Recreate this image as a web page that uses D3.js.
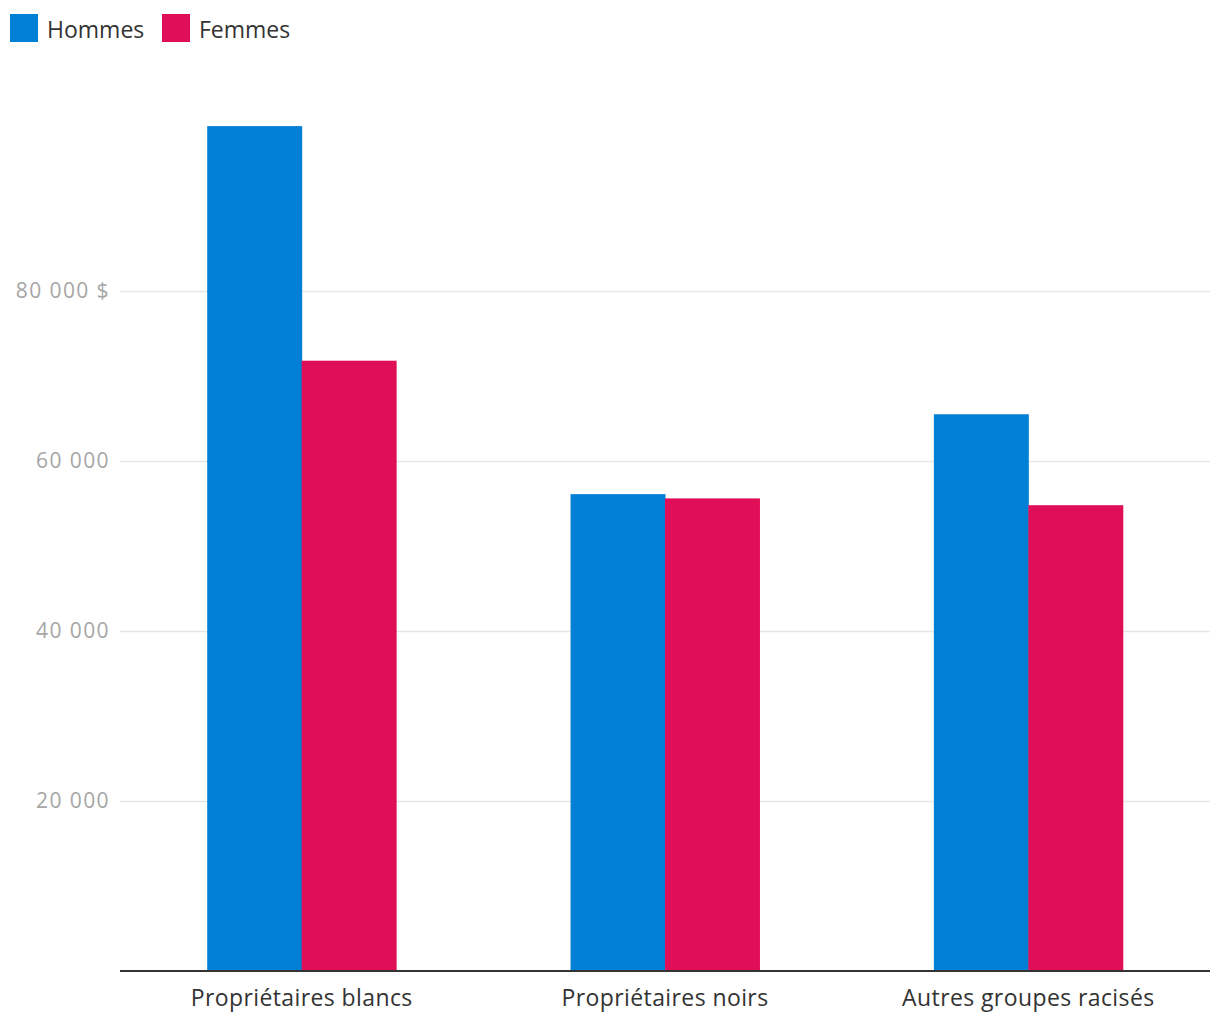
<!DOCTYPE html>
<html>
<head>
<meta charset="utf-8">
<script src="https://cdn.jsdelivr.net/npm/d3@7.9.0/dist/d3.min.js"></script>
<style>
  body { margin: 0; background: #fff; }
  svg { display: block; font-family: 'Open Sans', sans-serif; }
</style>
</head>
<body>
<svg id="chart" width="1220" height="1020"></svg>
<script>
const categories = ['Propriétaires blancs', 'Propriétaires noirs', 'Autres groupes racisés'];
const series = ['Hommes', 'Femmes'];
const hommes = [99400, 56100, 65500];
const femmes = [71800, 55600, 54800];
const yTicks = [20000, 40000, 60000, 80000];
const colors = ['#0080d5', '#e00e57'];

const svg = d3.select('#chart');
const plotLeft = 120, plotRight = 1210, plotTop = 121, plotBottom = 971;

// y: 0 at the baseline, 20 000 every 170px
const y = d3.scaleLinear().domain([0, 100000]).range([plotBottom, plotTop]);

const x0 = d3.scaleBand()
  .domain(categories)
  .range([plotLeft, plotRight])
  .paddingInner(0.48)
  .paddingOuter(0.24);

const x1 = d3.scaleBand()
  .domain(series)
  .range([0, x0.bandwidth()]);

const color = d3.scaleOrdinal().domain(series).range(colors);

// gridlines + tick labels
const fmt = (v) => d3.format(',')(v).replace(/,/g, ' ') + (v === 80000 ? ' $' : '');
const yAxis = d3.axisLeft(y)
  .tickValues(yTicks)
  .tickSize(-(plotRight - plotLeft))
  .tickPadding(10)
  .tickFormat(fmt);

const gy = svg.append('g')
  .attr('transform', `translate(${plotLeft},0)`)
  .call(yAxis);
gy.select('.domain').remove();
gy.selectAll('.tick line')
  .attr('stroke', '#e6e6e6')
  .attr('stroke-width', 1.5);
gy.selectAll('.tick text')
  .attr('fill', '#a6a6a6')
  .attr('font-size', 21)
  .attr('letter-spacing', 1.4)
  .attr('font-family', "'Open Sans', sans-serif");

// bars
const rows = categories.map((c, i) => ({ cat: c, values: [hommes[i], femmes[i]] }));

svg.append('g')
  .selectAll('g')
  .data(rows)
  .join('g')
  .attr('transform', (d) => `translate(${x0(d.cat)},0)`)
  .selectAll('rect')
  .data((d) => d.values.map((v, j) => ({ key: series[j], value: v })))
  .join('rect')
  .attr('x', (d) => x1(d.key))
  .attr('width', x1.bandwidth() + 0.5)
  .attr('y', (d) => y(d.value))
  .attr('height', (d) => y(0) - y(d.value))
  .attr('fill', (d) => color(d.key));

// x axis
const xAxis = d3.axisBottom(x0).tickSize(0).tickPadding(19);
const gx = svg.append('g')
  .attr('transform', `translate(0,${plotBottom})`)
  .call(xAxis);
gx.select('.domain')
  .attr('stroke', '#333')
  .attr('stroke-width', 2)
  .attr('d', `M${plotLeft},0H${plotRight}`);
gx.selectAll('.tick text')
  .attr('fill', '#333')
  .attr('font-size', 23)
  .attr('letter-spacing', 0.4)
  .attr('font-family', "'Open Sans', sans-serif");

// legend
const legend = svg.append('g').attr('transform', 'translate(10,14)');
const items = legend.selectAll('g')
  .data(series)
  .join('g')
  .attr('transform', (d, i) => `translate(${i * 152},0)`);
items.append('rect')
  .attr('width', 28)
  .attr('height', 28)
  .attr('fill', (d) => color(d));
items.append('text')
  .attr('x', 37)
  .attr('y', 16)
  .attr('dy', '0.35em')
  .attr('fill', '#333')
  .attr('font-size', 23)
  .text((d) => d);
</script>
</body>
</html>
